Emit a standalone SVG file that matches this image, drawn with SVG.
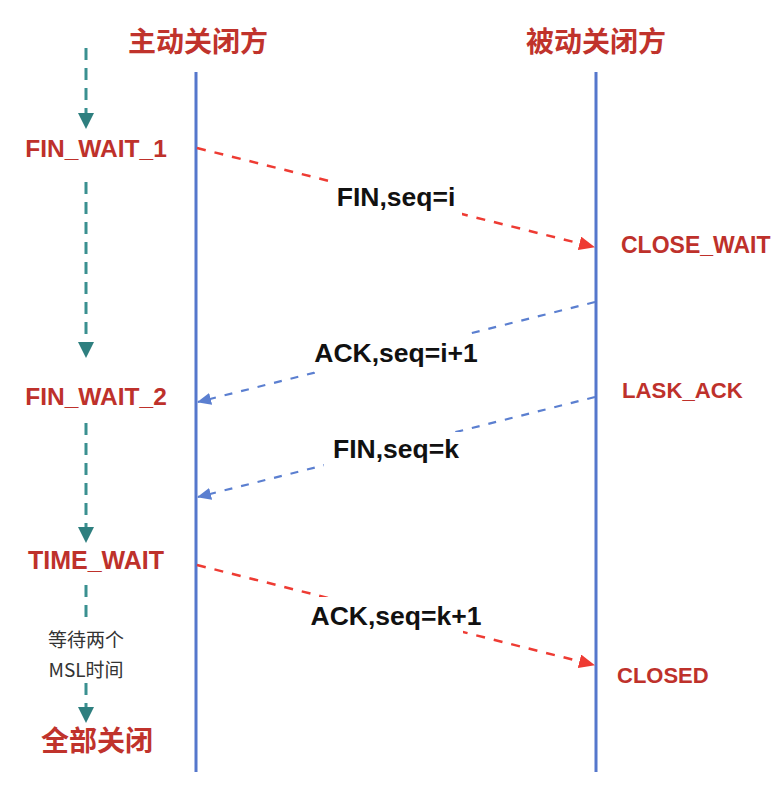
<svg xmlns="http://www.w3.org/2000/svg" width="776" height="812" viewBox="0 0 776 812">
<style>
.hdr{font-family:"Noto Sans CJK SC",sans-serif;font-weight:bold;font-size:28px;fill:#C0332C;text-anchor:middle}
.st{font-family:"Liberation Sans",Arial,sans-serif;font-weight:bold;fill:#BE312B}
.msg{font-family:"Liberation Sans",Arial,sans-serif;font-weight:bold;font-size:26.5px;fill:#111;text-anchor:middle}
.note{font-family:"Noto Sans CJK SC",sans-serif;font-size:19px;fill:#333;text-anchor:middle}
.life{stroke:#5577CC;stroke-width:3;fill:none}
.red{stroke:#EE3B33;stroke-width:2.5;stroke-dasharray:9 9;fill:none}
.blue{stroke:#5B7FD0;stroke-width:2.2;stroke-dasharray:8 9;fill:none}
.teal{stroke:#3A9090;stroke-width:3;stroke-dasharray:12 8;fill:none}
.bg{fill:#fff}
</style>
<defs>
<marker id="ar" markerWidth="16" markerHeight="14" refX="15" refY="7" orient="auto" markerUnits="userSpaceOnUse"><path d="M0,0 L16,7 L0,14 Z" fill="#EE3B33"/></marker>
<marker id="ab" markerWidth="14" markerHeight="12" refX="13" refY="6" orient="auto" markerUnits="userSpaceOnUse"><path d="M0,0 L14,6 L0,12 Z" fill="#5B7FD0"/></marker>
<marker id="at" markerWidth="16" markerHeight="16" refX="15" refY="8" orient="auto" markerUnits="userSpaceOnUse"><path d="M0,0 L16,8 L0,16 Z" fill="#2E7F7F"/></marker>
</defs>

<g id="header-active"><text class="hdr" x="198" y="52">主动关闭方</text></g>
<g id="header-passive"><text class="hdr" x="596" y="52">被动关闭方</text></g>

<g id="lifelines">
<line class="life" x1="196" y1="72" x2="196" y2="772"/>
<line class="life" x1="596" y1="72" x2="596" y2="772"/>
</g>

<g id="connectors">
<line class="red" x1="197" y1="148" x2="594" y2="247" marker-end="url(#ar)"/>
<line class="blue" x1="595" y1="302" x2="198" y2="402" marker-end="url(#ab)"/>
<line class="blue" x1="595" y1="397" x2="198" y2="497" marker-end="url(#ab)"/>
<line class="red" x1="197" y1="565" x2="594" y2="665" marker-end="url(#ar)"/>
<line class="teal" x1="86" y1="48" x2="86" y2="128" marker-end="url(#at)"/>
<line class="teal" x1="86" y1="182" x2="86" y2="357" marker-end="url(#at)"/>
<line class="teal" x1="86" y1="423" x2="86" y2="542" marker-end="url(#at)"/>
<line class="teal" x1="86" y1="585" x2="86" y2="620"/>
<line class="teal" x1="86" y1="683" x2="86" y2="722" marker-end="url(#at)"/>
</g>

<g id="label-fin-i"><rect class="bg" x="331" y="180" width="131" height="36"/><text class="msg" x="396" y="206">FIN,seq=i</text></g>
<g id="label-ack-i1"><rect class="bg" x="314" y="334" width="153" height="38"/><text class="msg" x="396" y="362">ACK,seq=i+1</text></g>
<g id="label-fin-k"><rect class="bg" x="324" y="432" width="138" height="35"/><text class="msg" x="396" y="458">FIN,seq=k</text></g>
<g id="label-ack-k1"><rect class="bg" x="309" y="597" width="154" height="37"/><text class="msg" x="396" y="625">ACK,seq=k+1</text></g>

<g id="fin-wait-1"><text class="st" x="96" y="157" font-size="24.5" text-anchor="middle">FIN_WAIT_1</text></g>
<g id="fin-wait-2"><text class="st" x="96" y="405" font-size="24.5" text-anchor="middle">FIN_WAIT_2</text></g>
<g id="time-wait"><text class="st" x="96" y="569" font-size="25" text-anchor="middle">TIME_WAIT</text></g>
<g id="wait-note"><text class="note" x="86" y="647">等待两个</text><text class="note" x="86" y="677">MSL时间</text></g>
<g id="all-closed"><text class="hdr" x="97" y="751">全部关闭</text></g>

<g id="close-wait"><text class="st" x="621" y="253" font-size="23">CLOSE_WAIT</text></g>
<g id="lask-ack"><text class="st" x="622" y="398" font-size="22.2">LASK_ACK</text></g>
<g id="closed"><text class="st" x="617" y="683" font-size="22">CLOSED</text></g>
</svg>
